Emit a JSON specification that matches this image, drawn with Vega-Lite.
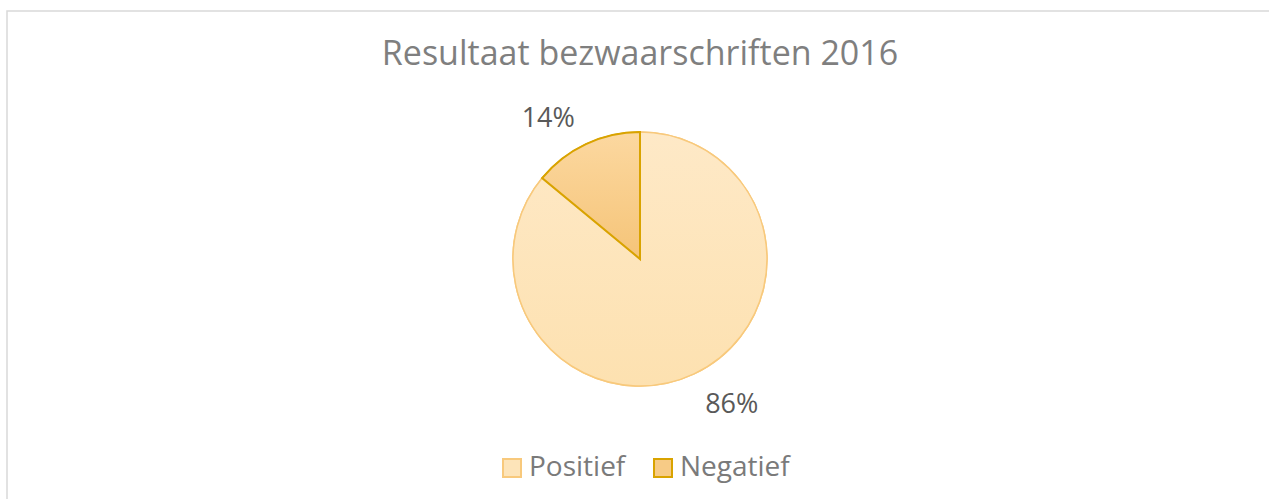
{
  "$schema": "https://vega.github.io/schema/vega-lite/v6.json",
  "width": 1266,
  "height": 492,
  "autosize": {"type": "none"},
  "padding": {"left": 7, "top": 11, "right": 0, "bottom": 0},
  "background": "white",
  "view": {"stroke": "#d9d9d9", "strokeWidth": 1.5},
  "config": {"view": {"stroke": "#d9d9d9", "strokeWidth": 1.5}},
  "title": {
    "text": "Resultaat bezwaarschriften 2016",
    "font": "Open Sans",
    "fontSize": 34,
    "fontWeight": "normal",
    "color": "#7f7f7f",
    "anchor": "middle",
    "frame": "group",
    "baseline": "alphabetic",
    "offset": -88
  },
  "data": {
    "values": [
      {"cat": "Positief", "share": 0.86},
      {"cat": "Negatief", "share": 0.14}
    ]
  },
  "layer": [
    {
      "mark": {
        "type": "arc",
        "outerRadius": 127,
        "x": {"expr": "width/2"},
        "y": {"expr": "height/2+2"},
        "strokeWidth": 1.5
      },
      "encoding": {
        "theta": {"field": "share", "type": "quantitative", "stack": true},
        "order": {"field": "cat", "sort": "descending"},
        "fill": {
          "field": "cat",
          "type": "nominal",
          "scale": {"domain": ["Positief", "Negatief"], "range": ["#fde4b9", "#f7cb86"]},
          "legend": {
            "orient": "none",
            "legendX": 491,
            "legendY": 443,
            "direction": "horizontal",
            "title": null,
            "symbolType": "square",
            "symbolSize": 324,
            "symbolStrokeWidth": 2,
            "labelFont": "Open Sans",
            "labelFontSize": 28,
            "labelColor": "#7a7a7a",
            "labelOffset": 3,
            "columnPadding": 23,
            "padding": 0
          }
        },
        "stroke": {
          "field": "cat",
          "type": "nominal",
          "scale": {"domain": ["Positief", "Negatief"], "range": ["#f8c97c", "#d9a300"]},
          "legend": {
            "orient": "none",
            "legendX": 491,
            "legendY": 443,
            "direction": "horizontal",
            "title": null,
            "symbolType": "square",
            "symbolSize": 324,
            "symbolStrokeWidth": 2,
            "labelFont": "Open Sans",
            "labelFontSize": 28,
            "labelColor": "#7a7a7a",
            "labelOffset": 3,
            "columnPadding": 23,
            "padding": 0
          }
        }
      }
    },
    {
      "mark": {
        "type": "arc",
        "outerRadius": 127,
        "x": {"expr": "width/2"},
        "y": {"expr": "height/2+2"},
        "strokeWidth": 1.5
      },
      "encoding": {
        "theta": {"field": "share", "type": "quantitative", "stack": true},
        "order": {"field": "cat", "sort": "descending"},
        "fill": {
          "condition": {
            "test": "datum.cat === 'Negatief'",
            "value": {
              "gradient": "linear", "x1": 0, "y1": 0, "x2": 0, "y2": 1,
              "stops": [{"offset": 0, "color": "#fcd8a0"}, {"offset": 1, "color": "#f5c478"}]
            }
          },
          "value": {
            "gradient": "linear", "x1": 0, "y1": 0, "x2": 0, "y2": 1,
            "stops": [{"offset": 0, "color": "#fee9c7"}, {"offset": 1, "color": "#fde1b0"}]
          }
        },
        "stroke": {
          "condition": {"test": "datum.cat === 'Negatief'", "value": "#d9a300"},
          "value": "#f8c97c"
        },
        "strokeWidth": {
          "condition": {"test": "datum.cat === 'Negatief'", "value": 2},
          "value": 1.5
        }
      }
    },
    {
      "mark": {
        "type": "text",
        "radius": 170,
        "x": {"expr": "width/2"},
        "y": {"expr": "height/2+2"},
        "dy": 3,
        "font": "Open Sans",
        "fontSize": 27,
        "color": "#595959",
        "align": "center",
        "baseline": "middle"
      },
      "encoding": {
        "theta": {"field": "share", "type": "quantitative", "stack": true, "scale": {"range": [-0.13, 6.153]}},
        "order": {"field": "cat", "sort": "descending"},
        "text": {"field": "share", "type": "quantitative", "format": ".0%"}
      }
    }
  ],
  "resolve": {"scale": {"theta": "independent"}}
}
